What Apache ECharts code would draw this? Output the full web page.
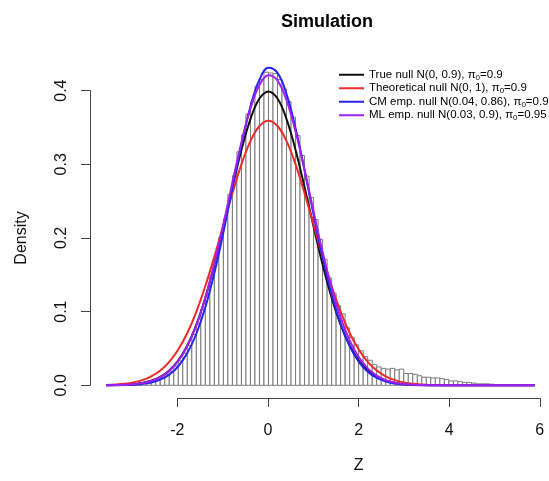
<!DOCTYPE html>
<html>
<head>
<meta charset="utf-8">
<script src="https://cdn.jsdelivr.net/npm/echarts@6/dist/echarts.min.js"></script>
<style>html,body{margin:0;padding:0;background:#fff;}#c{width:549px;height:481px;}</style>
</head>
<body>
<div id="c"></div>
<script>
// Histogram: left edge of each 0.1-wide bin and its density
const binStart = [-3.6,-3.5,-3.4,-3.3,-3.2,-3.1,-3.0,-2.9,-2.8,-2.7,-2.6,-2.5,-2.4,-2.3,-2.2,-2.1,-2.0,-1.9,-1.8,-1.7,-1.6,-1.5,-1.4,-1.3,-1.2,-1.1,-1.0,-0.9,-0.8,-0.7,-0.6,-0.5,-0.4,-0.3,-0.2,-0.1,0.0,0.1,0.2,0.3,0.4,0.5,0.6,0.7,0.8,0.9,1.0,1.1,1.2,1.3,1.4,1.5,1.6,1.7,1.8,1.9,2.0,2.1,2.2,2.3,2.4,2.5,2.6,2.7,2.8,2.9,3.0,3.1,3.2,3.3,3.4,3.5,3.6,3.7,3.8,3.9,4.0,4.1,4.2,4.3,4.4,4.5,4.6,4.7,4.8,4.9,5.0,5.1,5.2,5.3,5.4,5.5,5.6,5.7,5.8];
const binWidth = 0.1;
const binDensity = [0.0002,0.0002,0.0004,0.0004,0.0008,0.0010,0.0014,0.0020,0.0030,0.0042,0.0058,0.0078,0.0110,0.0148,0.0192,0.0262,0.0330,0.0436,0.0540,0.0690,0.0836,0.1035,0.1222,0.1480,0.1708,0.2010,0.2262,0.2590,0.2846,0.3170,0.3398,0.3680,0.3850,0.4060,0.4150,0.4250,
0.4240,0.4230,0.4150,0.4020,0.3850,0.3640,0.3390,0.3120,0.2840,0.2550,0.2250,0.1980,0.1710,0.1460,0.1250,
0.108,0.097,0.078,0.065,0.055,0.047,0.039,0.034,0.028,0.025,0.023,0.022,0.023,0.021,0.022,0.016,0.016,0.015,0.013,0.011,0.011,0.010,0.010,0.009,0.008,0.006,0.006,0.005,0.004,0.004,0.003,0.002,0.002,0.002,0.0015,0.001,0.001,0.001,0.0005,0.0005,0.0003,0.0002,0.0002,0.0001];

// Density curves sampled at curveX
const curveX = [-3.6,-3.4,-3.2,-3.0,-2.8,-2.6,-2.4,-2.2,-2.0,-1.8,-1.6,-1.4,-1.2,-1.0,-0.8,-0.6,-0.4,-0.2,0.0,0.2,0.4,0.6,0.8,1.0,1.2,1.4,1.6,1.8,2.0,2.2,2.4,2.6,2.8,3.0,3.2,3.4,3.6,3.8,4.0,4.5,5.0,5.5,5.9];
const trueNull = [0.00013,0.00032,0.00072,0.00154,0.00316,0.00615,0.0114,0.02011,0.03377,0.05399,0.08216,0.11896,0.16401,0.21519,0.26875,0.31945,0.36142,0.38921,0.39894,0.38921,0.36142,0.31945,0.26875,0.21519,0.16401,0.11896,0.08216,0.05399,0.03377,0.02011,0.0114,0.00615,0.00316,0.00154,0.00072,0.00032,0.00013,0.00005,0.00002,0,0,0,0];
const theoNull = [0.00055,0.00111,0.00214,0.00399,0.00713,0.01222,0.02015,0.03192,0.04859,0.07106,0.09983,0.13476,0.17477,0.21777,0.26072,0.2999,0.33144,0.35194,0.35905,0.35194,0.33144,0.2999,0.26072,0.21777,0.17477,0.13476,0.09983,0.07106,0.04859,0.03192,0.02015,0.01222,0.00713,0.00399,0.00214,0.00111,0.00055,0.00026,0.00012,0.000014,0,0,0];
const cmNull = [0.00006,0.00015,0.00036,0.00083,0.00185,0.00388,0.00771,0.01451,0.02588,0.04374,0.07002,0.10619,0.15257,0.20765,0.26778,0.32708,0.37849,0.41494,0.43095,0.42402,0.39524,0.34899,0.29195,0.23138,0.17371,0.12355,0.08325,0.05314,0.03213,0.01841,0.00999,0.00514,0.0025,0.00116,0.0005,0.00021,0.00008,0.00003,0.00001,0,0,0,0];
const mlNull = [0.00012,0.0003,0.00067,0.00146,0.003,0.00589,0.011,0.01956,0.03309,0.05329,0.08169,0.11918,0.1655,0.21876,0.27524,0.3296,0.37568,0.40757,0.42088,0.41367,0.38699,0.34459,0.29204,0.2356,0.18089,0.1322,0.09196,0.06087,0.03837,0.02302,0.01314,0.00714,0.00369,0.00182,0.00085,0.00038,0.00016,0.00006,0.00002,0,0,0,0];

const xTicks = [-2, 0, 2, 4, 6];
const yTicks = [0.0, 0.1, 0.2, 0.3, 0.4];
const seriesNames = ['True null', 'Theoretical null', 'CM emp. null', 'ML emp. null'];
const legendText = {
  'True null': ['True null N(0, 0.9), π', '0', '=0.9'],
  'Theoretical null': ['Theoretical null N(0, 1), π', '0', '=0.9'],
  'CM emp. null': ['CM emp. null N(0.04, 0.86), π', '0', '=0.93'],
  'ML emp. null': ['ML emp. null N(0.03, 0.9), π', '0', '=0.95']
};
const colors = ['#111111', '#ee2a2a', '#2626ee', '#a020f0'];

const FONT = '"Liberation Sans", Arial, Helvetica, sans-serif';
const histData = binStart.map((s, i) => [s, s + binWidth, binDensity[i]]);
const curves = [trueNull, theoNull, cmNull, mlNull];

const chart = echarts.init(document.getElementById('c'), null, {renderer: 'canvas'});
const option = {
  backgroundColor: '#fff',
  animation: false,
  title: {
    text: 'Simulation', left: 322, top: 8, textAlign: 'center',
    textStyle: {fontFamily: FONT, fontSize: 18, fontWeight: 'bold', color: '#000'}
  },
  legend: {
    orient: 'vertical', left: 334, top: 63, itemWidth: 25, itemHeight: 2, itemGap: 0,
    icon: 'rect', data: seriesNames,
    formatter: n => '{a|' + legendText[n][0] + '}{s|' + legendText[n][1] + '}{a|' + legendText[n][2] + '}',
    textStyle: {
      fontFamily: FONT, fontSize: 11.5, color: '#000', lineHeight: 13.5,
      rich: {
        a: {fontFamily: FONT, fontSize: 11.5, color: '#000', lineHeight: 13.5},
        s: {fontFamily: FONT, fontSize: 8, color: '#000', lineHeight: 13.5, verticalAlign: 'bottom', padding: [4, 0, 0, 0]}
      }
    }
  },
  grid: [
    {left: 89, top: 56, width: 462, height: 342},
    {left: 268 - 2 * 45.3, top: 397, width: 8 * 45.3, height: 1},
    {left: 90, top: 385.3 - 0.4 * 736.7, width: 1, height: 0.4 * 736.7}
  ],
  xAxis: [
    {gridIndex: 0, type: 'value', min: -3.98, max: 6.22, show: false},
    {gridIndex: 1, type: 'value', min: xTicks[0], max: xTicks[xTicks.length - 1], interval: 2,
     axisLine: {lineStyle: {color: '#444', width: 1}},
     axisTick: {length: 9, lineStyle: {color: '#444'}},
     splitLine: {show: false},
     axisLabel: {fontFamily: FONT, fontSize: 16, color: '#111', margin: 25},
     name: 'Z', nameLocation: 'middle', nameGap: 60,
     nameTextStyle: {fontFamily: FONT, fontSize: 16, color: '#111'}},
    {gridIndex: 2, type: 'value', show: false}
  ],
  yAxis: [
    {gridIndex: 0, type: 'value', min: -0.0172, max: 0.447, show: false},
    {gridIndex: 1, type: 'value', show: false},
    {gridIndex: 2, type: 'value', min: yTicks[0], max: yTicks[yTicks.length - 1], interval: 0.1,
     axisLine: {show: true, lineStyle: {color: '#444', width: 1}},
     axisTick: {show: true, length: 9, lineStyle: {color: '#444'}},
     splitLine: {show: false},
     axisLabel: {fontFamily: FONT, fontSize: 16, color: '#111', rotate: 90, margin: 20,
                 formatter: v => v.toFixed(1)},
     name: 'Density', nameLocation: 'middle', nameGap: 60, nameRotate: 90,
     nameTextStyle: {fontFamily: FONT, fontSize: 16, color: '#111'}}
  ],
  series: [
    {
      type: 'custom', xAxisIndex: 0, yAxisIndex: 0, data: histData,
      encode: {x: [0, 1], y: 2},
      renderItem: (params, api) => {
        const p0 = api.coord([api.value(0), 0]);
        const p1 = api.coord([api.value(1), api.value(2)]);
        return {
          type: 'rect',
          shape: {x: p0[0], y: p1[1], width: p1[0] - p0[0], height: p0[1] - p1[1]},
          style: {fill: '#fff', stroke: '#7a7a7a', lineWidth: 1}
        };
      }
    }
  ].concat(seriesNames.map((n, k) => ({
    name: n, type: 'line', xAxisIndex: 0, yAxisIndex: 0,
    data: curveX.map((x, i) => [x, curves[k][i]]),
    showSymbol: false, smooth: 0.4, z: 3 + k,
    lineStyle: {color: colors[k], width: 2},
    itemStyle: {color: colors[k]}
  })))
};
chart.setOption(option);
</script>
</body>
</html>
